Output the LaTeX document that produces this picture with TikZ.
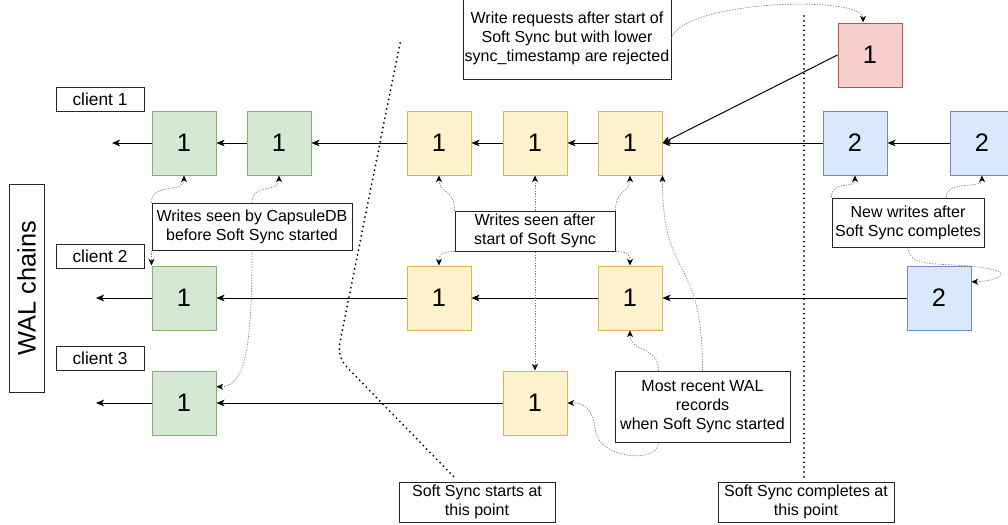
\documentclass[tikz,border=0pt]{standalone}
\usepackage{fontspec}
\setmainfont{Liberation Sans}
\usetikzlibrary{arrows.meta,calc}
\definecolor{gfill}{HTML}{D5E8D4}\definecolor{gline}{HTML}{82B366}
\definecolor{yfill}{HTML}{FFF2CC}\definecolor{yline}{HTML}{D6B656}
\definecolor{bfill}{HTML}{DAE8FC}\definecolor{bline}{HTML}{6C8EBF}
\definecolor{rfill}{HTML}{F8CECC}\definecolor{rline}{HTML}{B85450}
\begin{document}
\begin{tikzpicture}[x=0.75pt,y=-0.75pt,
  blk/.style={draw, line width=0.75pt, minimum size=48pt, inner sep=0pt, font=\fontsize{19}{22}\selectfont},
  gblk/.style={blk, fill=gfill, draw=gline},
  yblk/.style={blk, fill=yfill, draw=yline},
  bblk/.style={blk, fill=bfill, draw=bline},
  rblk/.style={blk, fill=rfill, draw=rline},
  tbox/.style={draw=black!85, fill=white, line width=0.75pt, inner sep=0pt, align=center, font=\fontsize{12}{14.4}\selectfont},
  lbl/.style={tbox, font=\fontsize{13}{15}\selectfont},
  chain/.style={line width=0.75pt, -{Stealth[length=6pt,width=5pt,inset=1.5pt]}},
  note/.style={draw=black!50, line width=0.5pt, dash pattern=on 1pt off 1pt, -{Stealth[length=5pt,width=4.5pt,inset=1.5pt,color=black]}},
  twonote/.style={note, {Stealth[length=5pt,width=4.5pt,inset=1.5pt,color=black]}-{Stealth[length=5pt,width=4.5pt,inset=1.5pt,color=black]}},
  sep/.style={line width=1.5pt, dash pattern=on 0pt off 3.6pt, line cap=round}
]
\useasboundingbox (0,0) rectangle (1008,525);

% separators
\coordinate (s1) at (400,43);
\coordinate (s2) at (337,357);
\coordinate (s3) at (454,477);
\draw[sep, rounded corners=10] (s1) -- (s2) -- (s3);
\coordinate (t1) at (804,16);
\coordinate (t2) at (804,478);
\draw[sep] (t1) -- (t2);

% blocks
\node[gblk] (g11) at (184,143) {1};
\node[gblk] (g12) at (279,143) {1};
\node[yblk] (y11) at (439,143) {1};
\node[yblk] (y12) at (535,143) {1};
\node[yblk] (y13) at (630,143) {1};
\node[bblk] (b11) at (855,143) {2};
\node[bblk] (b12) at (982,143) {2};
\node[gblk] (g21) at (184,298) {1};
\node[yblk] (y21) at (439,298) {1};
\node[yblk] (y22) at (630,298) {1};
\node[bblk] (b21) at (939,298) {2};
\node[gblk] (g31) at (184,403) {1};
\node[yblk] (y31) at (535,403) {1};
\node[rblk] (r1) at (870,55) {1};

% chain free ends
\coordinate (e1) at (112,143);
\coordinate (e2) at (96,298);
\coordinate (e3) at (96,403);

\draw[chain] (g11) -- (e1);
\draw[chain] (g12) -- (g11);
\draw[chain] (y11) -- (g12);
\draw[chain] (y12) -- (y11);
\draw[chain] (y13) -- (y12);
\draw[chain] (b11) -- (y13);
\draw[chain] (b12) -- (b11);
\draw[chain] (r1.west) -- (y13.east);
\draw[chain] (g21) -- (e2);
\draw[chain] (y21) -- (g21);
\draw[chain] (y22) -- (y21);
\draw[chain] (b21) -- (y22);
\draw[chain] (g31) -- (e3);
\draw[chain] (y31) -- (g31);

% client labels
\node[lbl, minimum width=66pt, minimum height=18pt] (c1) at (100,99) {client 1};
\node[lbl, minimum width=66pt, minimum height=18pt] (c2) at (100,256) {client 2};
\node[lbl, minimum width=66pt, minimum height=18pt] (c3) at (100,358.5) {client 3};
\node[tbox, rotate=90, minimum width=156pt, minimum height=26.25pt, font=\fontsize{19}{22}\selectfont] (wal) at (26.5,288) {WAL chains};

% vertical two-headed connector behind box
\draw[twonote] (y12.south) -- (y31.north);

% text boxes
\node[tbox, minimum width=156pt, minimum height=60.75pt] (wr) at (567,38.5) {Write requests after start of\\Soft Sync but with lower\\sync\_timestamp are rejected};
\node[tbox, minimum width=150pt, minimum height=35.25pt] (seenby) at (252,226.5) {Writes seen by CapsuleDB\\before Soft Sync started};
\node[tbox, minimum width=120pt, minimum height=30pt] (seenafter) at (535,231) {Writes seen after\\start of Soft Sync};
\node[tbox, minimum width=114pt, minimum height=36.75pt] (newwr) at (908,222.5) {New writes after\\Soft Sync completes};
\node[tbox, minimum width=131.25pt, minimum height=53.25pt] (recent) at (702.5,406.5) {Most recent WAL\\records\\when Soft Sync started};
\node[tbox, minimum width=117pt, minimum height=30pt] (starts) at (477,502) {Soft Sync starts at\\this point};
\node[tbox, minimum width=132pt, minimum height=30pt] (completes) at (806,502) {Soft Sync completes at\\this point};

% note connectors
\draw[note] (wr.east) .. controls +(10,-38) and +(0,-28) .. ($(r1.north)+(-7,0)$);
\draw[note] (seenby.north west) .. controls +(0,-20) and +(0,18) .. (g11.south);
\draw[note] (seenby.north) .. controls +(0,-20) and +(0,18) .. (g12.south);
\draw[note] (seenby.south west) -- (g21.north west);
\draw[note] (seenby.south) .. controls +(0,100) and +(28,0) .. ($(g31.north east)!0.25!(g31.south east)$);
\draw[note] (seenafter.north west) .. controls +(0,-22) and +(0,18) .. (y11.south);
\draw[note] (seenafter.north east) .. controls +(0,-22) and +(0,18) .. (y13.south);
\draw[note] (seenafter.south west) .. controls +(-14,0) and +(0,-10) .. (y21.north);
\draw[note] (seenafter.south east) .. controls +(14,0) and +(0,-10) .. (y22.north);
\draw[note] (newwr.north west) .. controls +(0,-18) and +(0,14) .. (b11.south);
\draw[note] ($(newwr.north west)!0.75!(newwr.north east)$) .. controls +(0,-18) and +(0,14) .. (b12.south);
\draw[note] (newwr.south) .. controls +(0,18) and +(-30,-2) .. ++(55,18) .. controls +(65,5) and +(22,0) .. ($(b21.north east)!0.25!(b21.south east)$);
\draw[note] ($(recent.north west)!0.25!(recent.north east)$) .. controls +(0,-25) and +(0,22) .. (y22.south);
\draw[note] (recent.north) .. controls +(0,-120) and +(0,110) .. (y13.south east);
\draw[note] ($(recent.south west)!0.25!(recent.south east)$) .. controls +(0,22) and +(3,28) .. ++(-63,-12) .. controls +(-3,-22) and +(18,0) .. (y31.east);
\end{tikzpicture}
\end{document}
